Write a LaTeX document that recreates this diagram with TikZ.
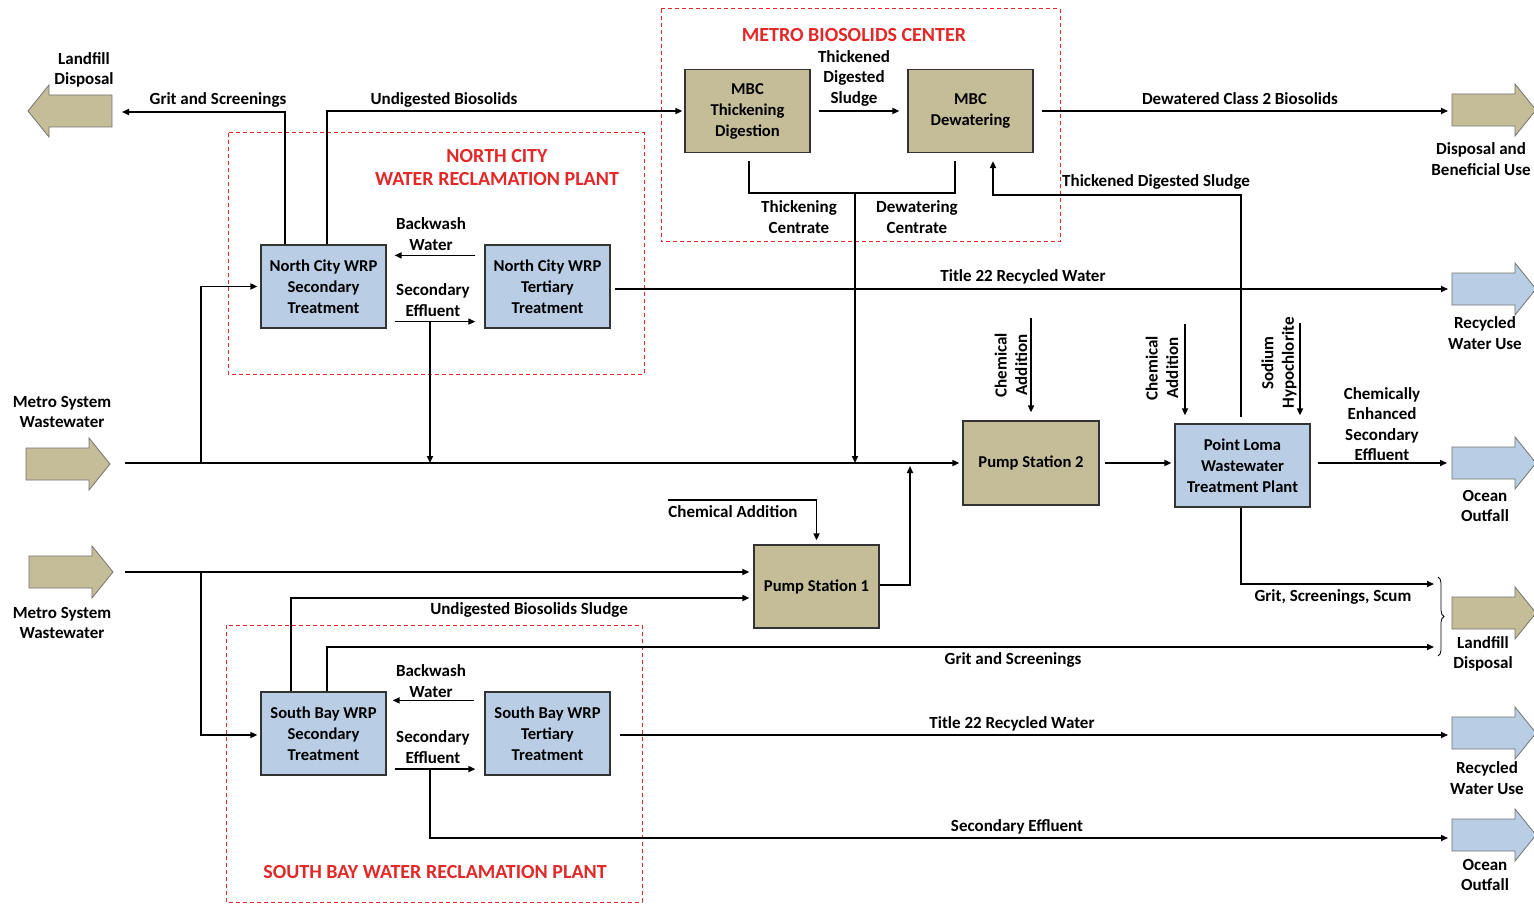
\documentclass[tikz,border=0pt]{standalone}
\usepackage{fontspec}
\setmainfont{Carlito}
\usetikzlibrary{arrows.meta,decorations.pathreplacing}
\definecolor{khaki}{RGB}{196,189,151}
\definecolor{lblue}{RGB}{185,205,229}
\definecolor{tred}{RGB}{226,40,40}
\begin{document}
\begin{tikzpicture}[x=1pt,y=-1pt,
  lbl/.style={font=\fontsize{17}{20.5}\selectfont\bfseries, align=center, inner sep=0},
  proc/.style={draw=black!80, line width=1.2pt, minimum width=125pt, minimum height=83pt, align=center, inner sep=0, font=\fontsize{16.6}{21}\selectfont\bfseries},
  kbox/.style={proc, fill=khaki},
  bbox/.style={proc, fill=lblue},
  arr/.style={line width=1.6pt, -{Triangle[length=7pt,width=6pt]}},
  ln/.style={line width=1.6pt},
  region/.style={draw=tred, line width=1pt, dash pattern=on 4pt off 3pt},
  ttl/.style={text=tred, font=\fontsize{20}{23}\selectfont\bfseries, align=center, inner sep=0},
  bigarr/.pic={\path[pic actions] (0,-16) -- (63,-16) -- (63,-26) -- (84,0) -- (63,26) -- (63,16) -- (0,16) -- cycle;},
  kha/.style={fill=khaki, draw=black!55, line width=0.8pt},
  bla/.style={fill=lblue, draw=black!55, line width=0.8pt}
]
\useasboundingbox (0,0) rectangle (1534,904);
\fill[white] (0,0) rectangle (1534,904);

% regions
\draw[region] (228,133) rectangle (644,374);
\draw[region] (661,9) rectangle (1060,242);
\draw[region] (226,625) rectangle (642,902);
\node[ttl] (nctitle) at (497,168) {NORTH CITY\\WATER RECLAMATION PLANT};
\node[ttl] (mbctitle) at (854,35) {METRO BIOSOLIDS CENTER};
\node[ttl] (sbtitle) at (435,872) {SOUTH BAY WATER RECLAMATION PLANT};

% big arrows
\pic[kha, xscale=-1] at (112,111) {bigarr};
\pic[kha] at (26,464) {bigarr};
\pic[kha] at (29,572) {bigarr};
\pic[kha] at (1452,110) {bigarr};
\pic[bla] at (1452,289) {bigarr};
\pic[bla] at (1452,463) {bigarr};
\pic[kha] at (1452,613) {bigarr};
\pic[bla] at (1452,733) {bigarr};
\pic[bla] at (1452,835) {bigarr};

% process boxes
\node[bbox] (ncsec) at (323.5,286.5) {North City WRP\\Secondary\\Treatment};
\node[bbox] (ncter) at (547.5,286.5) {North City WRP\\Tertiary\\Treatment};
\node[kbox] (mbct) at (747.5,111) {MBC\\Thickening\\Digestion};
\node[kbox] (mbcd) at (970.5,111) {MBC\\Dewatering};
\node[kbox, minimum width=136pt, minimum height=84pt] (ps2) at (1031,463) {Pump Station 2};
\node[bbox, minimum width=135pt] (pl) at (1242.5,465.5) {Point Loma\\Wastewater\\Treatment Plant};
\node[kbox] (ps1) at (816.5,586.5) {Pump Station 1};
\node[bbox] (sbsec) at (323.5,733.5) {South Bay WRP\\Secondary\\Treatment};
\node[bbox] (sbter) at (547.5,733.5) {South Bay WRP\\Tertiary\\Treatment};

% coordinates
\coordinate (m1) at (125,463);
\coordinate (m2) at (125,572);
\coordinate (lf1) at (122,112);
\coordinate (dispo) at (1448,111);
\coordinate (rec1) at (1448,289);
\coordinate (ocean1) at (1447,463);
\coordinate (lf2) at (1434,584);
\coordinate (lf2b) at (1434,647);
\coordinate (rec2) at (1448,735);
\coordinate (ocean2) at (1448,838);
\coordinate (cen) at (855,193);
\coordinate (ncse) at (430,321);
\coordinate (sbse) at (430,769);
\coordinate (ps1j) at (910,585);
\coordinate (ch1) at (1031,318);
\coordinate (ch2) at (1185,324);
\coordinate (ch3) at (1300,323);
\coordinate (ch4) at (668,500);
\coordinate (pltop) at ([shift={(0,-8)}]pl.north);

% connectors, north city
\draw[arr, shorten >=3pt] (m1) -- (ps2.west);
\draw[arr, shorten >=3pt] (201,463) |- (ncsec.west);
\draw[arr] ([xshift=-38.5]ncsec.north) |- (lf1);
\draw[arr, shorten >=2pt] ([xshift=3.5]ncsec.north) |- (mbct.west);
\draw[arr] ([shift={(-9,11)}]ncter.north west) -- ([shift={(8,11)}]ncsec.north east);
\draw[arr] ([shift={(8,-7)}]ncsec.south east) -- ([shift={(-9,-7)}]ncter.south west);
\draw[arr] (ncse) -- (ncse |- m1);
\draw[arr] ([shift={(4,2.5)}]ncter.east) -- (rec1);

% MBC
\draw[arr, shorten <=8pt, shorten >=8pt] (mbct.east) -- (mbcd.west);
\draw[ln] ([shift={(1.5,8)}]mbct.south) |- (cen) -| ([shift={(-15.5,8)}]mbcd.south);
\draw[arr] (cen) -- (cen |- m1);
\draw[arr, shorten <=8pt] (mbcd.east) -- (dispo);
\draw[arr] ([shift={(-1.5,-6)}]pl.north) |- (993,195) -- ([shift={(22.5,8)}]mbcd.south);

% Point Loma
\draw[arr] (ch1) -- ([shift={(0,-8)}]ps2.north);
\draw[arr, shorten <=5pt, shorten >=3pt] (ps2.east) -- (pl.west |- ps2.east);
\draw[arr] (ch2) -- (ch2 |- pltop);
\draw[arr] (ch3) -- (ch3 |- pltop);
\draw[arr, shorten <=7pt] (pl.east |- ocean1) -- (ocean1);
\draw[arr] ([xshift=-1.5]pl.south) |- (lf2);
\draw[decorate, decoration={brace, amplitude=6pt}, line width=0.8pt] (1438,577) -- (1438,656);

% south
\draw[arr] (ch4) -| ([shift={(0,-4)}]ps1.north);
\draw[arr] (ps1.east |- ps1j) -- (ps1j) -- (910,466);
\draw[arr, shorten >=4pt] (m2) -- ([shift={(0,-14.5)}]ps1.west);
\draw[arr, shorten >=3pt] (201,572) |- ([shift={(0,1.5)}]sbsec.west);
\draw[arr, shorten >=4pt] ([xshift=-32.5]sbsec.north) |- ([shift={(0,11.5)}]ps1.west);
\draw[arr] ([xshift=3.5]sbsec.north) |- (lf2b);
\draw[arr] ([shift={(-10,9)}]sbter.north west) -- ([shift={(6,9)}]sbsec.north east);
\draw[arr] ([shift={(8,-6.5)}]sbsec.south east) -- ([shift={(-9,-6.5)}]sbter.south west);
\draw[arr] ([shift={(9,1.5)}]sbter.east) -- (rec2);
\draw[arr] (sbse) |- (ocean2);

% labels
\node[lbl] (l1) at (84,70) {Landfill\\Disposal};
\node[lbl] (l2) at (218,100) {Grit and Screenings};
\node[lbl] (l3) at (444,100) {Undigested Biosolids};
\node[lbl] (l4) at (431,234) {Backwash\\Water};
\node[lbl] (l5) at (433,300) {Secondary\\Effluent};
\node[lbl] (l6) at (1023,277) {Title 22 Recycled Water};
\node[lbl] (l7) at (1485,333) {Recycled\\Water Use};
\node[lbl] (l8) at (62,412) {Metro System\\Wastewater};
\node[lbl] (l9) at (854,78) {Thickened\\Digested\\Sludge};
\node[lbl] (l10) at (799,217) {Thickening\\Centrate};
\node[lbl] (l11) at (917,217) {Dewatering\\Centrate};
\node[lbl] (l12) at (1240,99) {Dewatered Class 2 Biosolids};
\node[lbl] (l13) at (1481,159) {Disposal and\\Beneficial Use};
\node[lbl, anchor=west] (l14) at (1062,182) {Thickened Digested Sludge};
\node[lbl, rotate=90] (l15) at (1011,365) {Chemical\\Addition};
\node[lbl, rotate=90] (l16) at (1162,368) {Chemical\\Addition};
\node[lbl, rotate=90] (l17) at (1279,363) {Sodium\\Hypochlorite};
\node[lbl] (l18) at (1382,424) {Chemically\\Enhanced\\Secondary\\Effluent};
\node[lbl] (l19) at (1485,506) {Ocean\\Outfall};
\node[lbl] (l20) at (733,512) {Chemical Addition};
\node[lbl] (l21) at (62,623) {Metro System\\Wastewater};
\node[lbl] (l22) at (529,610) {Undigested Biosolids Sludge};
\node[lbl] (l23) at (1333,597) {Grit, Screenings, Scum};
\node[lbl] (l24) at (1483,654) {Landfill\\Disposal};
\node[lbl] (l25) at (1013,660) {Grit and Screenings};
\node[lbl] (l26) at (431,681) {Backwash\\Water};
\node[lbl] (l27) at (433,747) {Secondary\\Effluent};
\node[lbl] (l28) at (1012,724) {Title 22 Recycled Water};
\node[lbl] (l29) at (1487,778) {Recycled\\Water Use};
\node[lbl] (l30) at (1017,827) {Secondary Effluent};
\node[lbl] (l31) at (1485,875) {Ocean\\Outfall};
\end{tikzpicture}
\end{document}
